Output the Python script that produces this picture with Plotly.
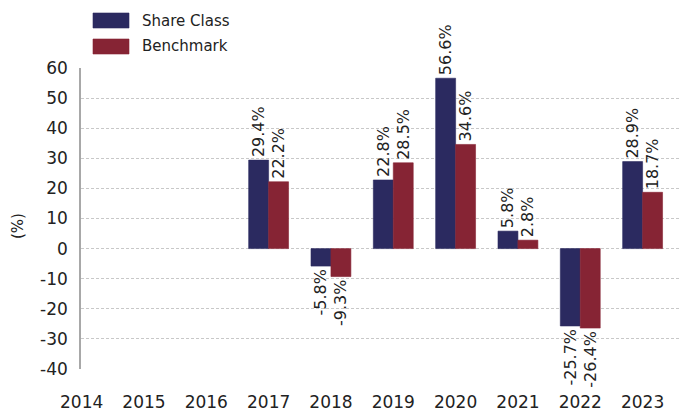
import plotly.graph_objects as go

years = ["2014", "2015", "2016", "2017", "2018", "2019", "2020", "2021", "2022", "2023"]
share_class = [None, None, None, 29.4, -5.8, 22.8, 56.6, 5.8, -25.7, 28.9]
benchmark = [None, None, None, 22.2, -9.3, 28.5, 34.6, 2.8, -26.4, 18.7]
series_names = ["Share Class", "Benchmark"]
colors = ["#2b2a60", "#862434"]
y_ticks = [60, 50, 40, 30, 20, 10, 0, -10, -20, -30, -40]

FONT = "DejaVu Sans"

def labels(vals):
    return ["" if v is None else f"{v:.1f}%" for v in vals]

fig = go.Figure()
for name, vals, col in zip(series_names, [share_class, benchmark], colors):
    fig.add_trace(go.Bar(
        x=years, y=vals, name=name,
        marker=dict(color=col, line=dict(color=col, width=0.6)),
        text=labels(vals), textposition="outside", textangle=-90,
        constraintext="none", cliponaxis=False,
        textfont=dict(family=FONT, size=16, color="#222222"),
        showlegend=False,
    ))

fig.update_layout(
    width=680, height=414,
    margin=dict(l=81, r=0, t=68, b=45, autoexpand=False),
    paper_bgcolor="white", plot_bgcolor="white",
    barmode="group", bargap=0.36, bargroupgap=0,
    font=dict(family=FONT, color="#222222"),
    xaxis=dict(
        type="category", range=[-0.01, 9.6], showgrid=False, showline=False,
        zeroline=False, ticks="outside", ticklen=18, tickcolor="rgba(0,0,0,0)",
        tickfont=dict(family=FONT, size=17, color="#222222"),
        automargin=False,
    ),
    yaxis=dict(
        range=[-40, 60], tickvals=y_ticks, ticktext=[str(v) for v in y_ticks],
        showgrid=True, gridcolor="#c8c8c8", griddash="3px,2px", gridwidth=1,
        zeroline=False, showline=True, linecolor="#a8a8a8", linewidth=1.5,
        ticks="outside", ticklen=8, tickcolor="rgba(0,0,0,0)",
        tickfont=dict(family=FONT, size=17, color="#222222"),
        automargin=False,
    ),
    annotations=[
        dict(text="(%)", xref="paper", yref="paper", x=(18 - 81) / 599, y=(369 - 226) / 301,
             showarrow=False, textangle=-90, font=dict(family=FONT, size=15, color="#222222"),
             xanchor="center", yanchor="middle"),
        dict(text=series_names[0], xref="paper", yref="paper", x=(140 - 81) / 599, y=(369 - 21) / 301,
             showarrow=False, xanchor="left", yanchor="middle",
             font=dict(family=FONT, size=15, color="#222222")),
        dict(text=series_names[1], xref="paper", yref="paper", x=(140 - 81) / 599, y=(369 - 46) / 301,
             showarrow=False, xanchor="left", yanchor="middle",
             font=dict(family=FONT, size=15, color="#222222")),
    ],
    shapes=[
        dict(type="rect", xref="paper", yref="paper",
             x0=(93 - 81) / 599, x1=(129 - 81) / 599, y0=(369 - 28) / 301, y1=(369 - 13) / 301,
             fillcolor=colors[0], line=dict(color=colors[0], width=0.6)),
        dict(type="rect", xref="paper", yref="paper",
             x0=(93 - 81) / 599, x1=(129 - 81) / 599, y0=(369 - 54) / 301, y1=(369 - 39) / 301,
             fillcolor=colors[1], line=dict(color=colors[1], width=0.6)),
    ],
)

fig.write_html("out.html")
